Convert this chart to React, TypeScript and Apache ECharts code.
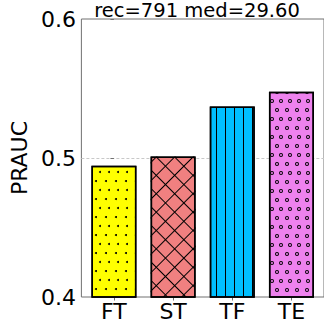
import React, { useEffect, useRef } from 'react';
import * as echarts from 'echarts';

const categories = ['FT', 'ST', 'TF', 'TE'];
const prauc = [0.4945, 0.501, 0.537, 0.5477];
const barColors = ['#ffff00', '#f08080', '#00bfff', '#ee82ee'];
const yTicks = [0.4, 0.5, 0.6];
const titleText = 'rec=791 med=29.60';
const yName = 'PRAUC';

const FONT = 'DejaVu Sans';
const SPINE = '#707070';

const ringPath =
  'path://M5,0A5,5,0,1,1,5,10A5,5,0,1,1,5,0ZM5,2.4A2.6,2.6,0,1,0,5,7.6A2.6,2.6,0,1,0,5,2.4Z';

const dotDecal = {
  symbol: 'circle',
  symbolSize: 1,
  color: '#000',
  dashArrayX: [
    [2, 7],
    [0, 4.5, 2, 2.5],
  ],
  dashArrayY: [2, 7],
};
const diagA = {
  symbol: 'rect',
  symbolSize: 1,
  color: '#000',
  dashArrayX: [[1, 0]],
  dashArrayY: [1, 12],
  rotation: Math.PI / 4,
};
const diagB = { ...diagA, rotation: -Math.PI / 4 };
const vlineDecal = {
  symbol: 'rect',
  symbolSize: 1,
  color: '#000',
  dashArrayX: [[1, 8]],
  dashArrayY: [9, 0],
};
const ringDecal = {
  symbol: ringPath,
  symbolSize: 1,
  color: '#000',
  dashArrayX: [
    [4, 5],
    [0, 4.5, 4, 0.5],
  ],
  dashArrayY: [4, 5],
};
const decals = [dotDecal, diagA, vlineDecal, ringDecal];

export default function App() {
  const ref = useRef<HTMLDivElement>(null);
  useEffect(() => {
    const chart = echarts.init(ref.current!, null, { renderer: 'svg' });
    const idx = categories.map((_, i) => i);
    chart.setOption({
      animation: false,
      backgroundColor: '#fff',
      title: {
        text: titleText,
        left: 197,
        top: 1,
        padding: 0,
        textAlign: 'center',
        textStyle: {
          fontSize: 19.5,
          lineHeight: 19,
          fontWeight: 'normal',
          color: '#000',
          fontFamily: FONT,
        },
      },
      grid: {
        left: 66.3,
        top: 19,
        right: -1.2,
        bottom: 27,
        show: true,
        borderColor: SPINE,
        borderWidth: 1,
        backgroundColor: 'transparent',
      },
      xAxis: {
        type: 'value',
        min: -0.55,
        max: 3.55,
        axisLine: { show: false },
        splitLine: { show: false },
        axisTick: { show: true, customValues: idx, length: 3.5, lineStyle: { color: SPINE } },
        axisLabel: {
          customValues: idx,
          formatter: (v: number) => categories[Math.round(v)] ?? '',
          fontSize: 22,
          color: '#000',
          fontFamily: FONT,
          margin: 3,
        },
      },
      yAxis: {
        type: 'value',
        min: yTicks[0],
        max: yTicks[yTicks.length - 1],
        interval: 0.1,
        axisLine: { show: false },
        axisTick: { show: true, length: 3.5, lineStyle: { color: SPINE } },
        axisLabel: {
          fontSize: 22,
          color: '#000',
          fontFamily: FONT,
          margin: 5.5,
          formatter: (v: number) => v.toFixed(1),
        },
        splitLine: {
          show: true,
          lineStyle: {
            color: ['rgba(0,0,0,0)', '#c8c8c8', 'rgba(0,0,0,0)'],
            type: [3, 2],
            width: 1,
          },
        },
        name: yName,
        nameLocation: 'middle',
        nameGap: 49,
        nameTextStyle: { fontSize: 22, color: '#000', fontFamily: FONT },
      },
      series: [
        {
          type: 'bar',
          barWidth: 45,
          barGap: '-100%',
          data: categories.map((_, i) => ({
            value: [i, prauc[i]],
            itemStyle: {
              color: barColors[i],
              borderColor: '#000',
              borderWidth: 1.5,
              decal: decals[i],
            },
          })),
        },
        {
          type: 'bar',
          barWidth: 45,
          barGap: '-100%',
          silent: true,
          data: [
            {
              value: [1, prauc[1]],
              itemStyle: { color: 'rgba(0,0,0,0)', borderWidth: 0, decal: diagB },
            },
          ],
        },
      ],
    });
    return () => chart.dispose();
  }, []);
  return (
    <div
      ref={ref}
      style={{ position: 'fixed', left: 0, top: 0, width: 324, height: 324 }}
    />
  );
}
